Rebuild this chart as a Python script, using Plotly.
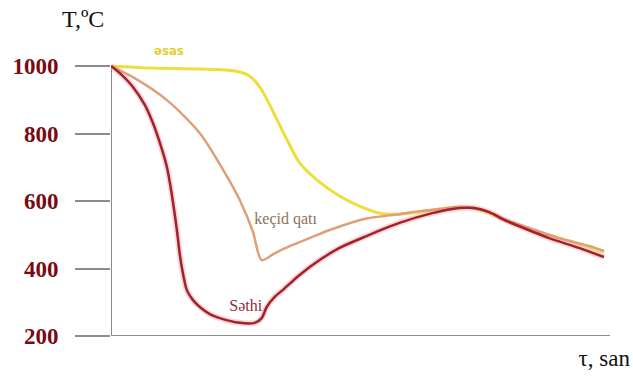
import plotly.graph_objects as go

# Time axis in arbitrary units (0..100), temperature in °C
tau_esas = [0, 7.8, 17.8, 24.8, 27.8, 30.2, 32.8, 35.8, 37.8, 41.8, 45.8, 49.8, 53.8,
            57.8, 61.8, 65.8, 69.8, 72.8, 75.8, 78.8, 81.8, 87.8, 93.8, 98.8]
temp_esas = [1000, 994, 991, 985, 970, 929, 855, 766, 713, 656, 615, 585, 564,
             561, 567, 576, 582, 579, 564, 544, 526, 499, 473, 449]

tau_kecid = [0, 4.4, 11.2, 17.8, 23.2, 25.8, 28.4, 30.2, 32.8, 35.8,
             39.8, 44.4, 51.2, 57.8, 61.8, 65.8, 69.8, 73.8, 76.8, 79.8, 83.8, 89.8, 95.8, 98.8]
temp_kecid = [1000, 967, 899, 801, 674, 603, 511, 425, 445, 466,
              490, 517, 548, 561, 570, 576, 582, 576, 561, 541, 520, 490, 467, 452]

tau_sethi = [0, 2.2, 4.4, 6.8, 8.4, 9.8, 11.2, 12.2, 13.2, 13.8, 14.4, 15.2, 16.4, 17.8,
             19.8, 21.8, 25.8, 28.8, 30.2, 31.2, 32.8, 34.4, 37.8, 41.8, 45.8, 51.2, 57.8,
             64.4, 69.8, 72.8, 75.8, 78.8, 81.2, 87.8, 93.8, 98.8]
temp_sethi = [1000, 973, 938, 884, 831, 772, 701, 618, 514, 440, 387, 336, 307, 286,
              265, 253, 239, 239, 253, 286, 316, 336, 381, 425, 461, 496, 535,
              564, 579, 579, 567, 544, 529, 490, 461, 434]

y_ticks = [200, 400, 600, 800, 1000]

# curve labels and axis titles
label_names = ["əsas", "keçid qatı", "Səthi"]
axis_titles = ["T,ºC", "τ, san"]

W, H = 633, 383
YELLOW = "#EEDD3A"
TAN = "#DDA07A"
DARKRED = "#A3202E"
AXIS = "#8C8C8C"
TICKRED = "#7A0A12"
SERIF = "Liberation Serif"

fig = go.Figure()


def text_mark(x, y, s, family, size, color, weight="normal", pos="middle center",
              xa="x", ya="y"):
    fig.add_trace(go.Scatter(x=[x], y=[y], mode="text", text=[s], textposition=pos,
                             xaxis=xa, yaxis=ya, cliponaxis=False, hoverinfo="skip",
                             textfont=dict(family=family, size=size, color=color, weight=weight)))


# axis titles on a page-wide helper axis (pixel units), drawn first
text_mark(62, 21, axis_titles[0], SERIF, 24, "#111111", pos="middle right", xa="x2", ya="y2")
text_mark(630, 360, axis_titles[1], SERIF, 23, "#111111", pos="middle left", xa="x2", ya="y2")

fig.add_trace(go.Scatter(x=tau_esas, y=temp_esas, mode="lines", cliponaxis=False,
                         line=dict(color=YELLOW, width=3, shape="spline", smoothing=0.8),
                         hoverinfo="skip"))
fig.add_trace(go.Scatter(x=tau_kecid, y=temp_kecid, mode="lines", cliponaxis=False,
                         line=dict(color=TAN, width=2.5, shape="spline", smoothing=0.8),
                         hoverinfo="skip"))
# soft halo under the surface curve
fig.add_trace(go.Scatter(x=tau_sethi, y=temp_sethi, mode="lines", cliponaxis=False,
                         line=dict(color="rgba(235,140,140,0.35)", width=6, shape="spline", smoothing=0.8),
                         hoverinfo="skip"))
fig.add_trace(go.Scatter(x=tau_sethi, y=temp_sethi, mode="lines", cliponaxis=False,
                         line=dict(color=DARKRED, width=2.5, shape="spline", smoothing=0.8),
                         hoverinfo="skip"))

# axis lines
fig.add_shape(type="line", xref="x", yref="y", x0=0, x1=0, y0=200, y1=1000,
              line=dict(color=AXIS, width=2), layer="below")
fig.add_shape(type="line", xref="x", yref="y", x0=0, x1=100, y0=200, y1=200,
              line=dict(color=AXIS, width=2), layer="below")

# curve labels placed in data coordinates
text_mark(11.6, 1043, label_names[0], "DejaVu Sans Condensed", 13, "#E6CF2A", "bold")
text_mark(35.0, 545, label_names[1], SERIF, 16, "#8C7262")
text_mark(27.0, 286, label_names[2], SERIF, 16, "#9A2A38")

fig.update_layout(
    width=W, height=H,
    margin=dict(l=0, r=0, t=0, b=0, autoexpand=False),
    paper_bgcolor="white", plot_bgcolor="rgba(0,0,0,0)",
    showlegend=False,
    xaxis=dict(range=[0, 100], visible=False, domain=[111 / W, 610 / W], anchor="y"),
    yaxis=dict(range=[200, 1106.7], domain=[47 / H, (H - 30) / H], anchor="x",
               tickvals=y_ticks, ticktext=[str(v) for v in y_ticks],
               showgrid=False, zeroline=False, showline=False, automargin=False,
               ticks="outside", ticklen=35, tickwidth=2, tickcolor=AXIS,
               ticklabelstandoff=12,
               tickfont=dict(family=SERIF, size=23, color=TICKRED, weight="bold")),
    xaxis2=dict(range=[0, W], domain=[0, 1], visible=False, anchor="y2"),
    yaxis2=dict(range=[H, 0], domain=[0, 1], visible=False, anchor="x2"),
)

fig.write_html("out.html")
